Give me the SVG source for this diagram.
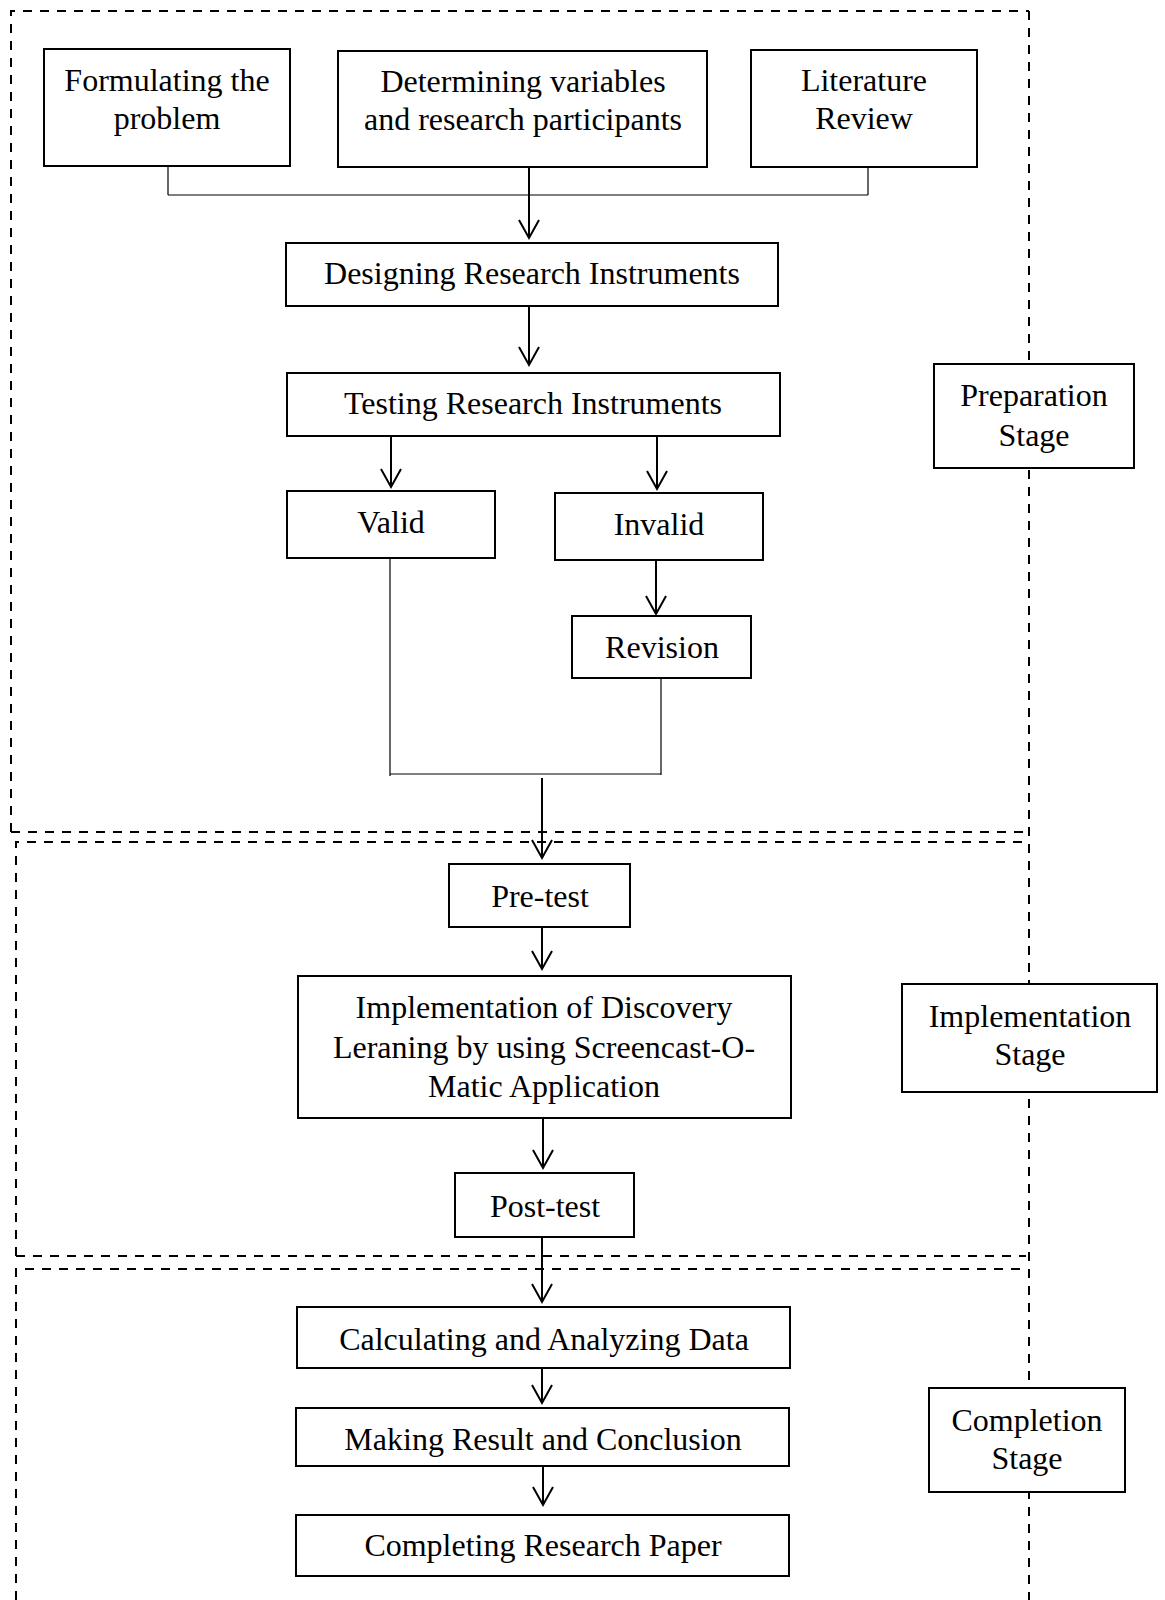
<svg xmlns="http://www.w3.org/2000/svg" width="1165" height="1600" viewBox="0 0 1165 1600">
<style>
  .box { fill: #fff; stroke: #000; stroke-width: 2; }
  .lbl { font-family: "Liberation Serif", "Times New Roman", serif; font-size: 32px; fill: #000; text-anchor: middle; }
  .dash { fill: none; stroke: #000; stroke-width: 2; stroke-dasharray: 9 8; }
  .arrow { fill: none; stroke: #000; stroke-width: 2; marker-end: url(#vhead); }
  .plain { fill: none; stroke: #000; stroke-width: 1.2; }
</style>
<defs>
  <marker id="vhead" markerUnits="userSpaceOnUse" markerWidth="24" markerHeight="26" viewBox="-22 -13 24 26" refX="0" refY="0" orient="auto" overflow="visible">
    <path d="M-18,-10 L0,0 L-18,10" fill="none" stroke="#000" stroke-width="2"/>
  </marker>
</defs>
<rect width="1165" height="1600" fill="#fff"/>

<g id="frames">
  <path class="dash" d="M11,832 V11 H1029"/>
  <path class="dash" d="M1029,11 V1600"/>
  <path class="dash" d="M11,832 H1026"/>
  <path class="dash" d="M16,1256 V842 H1026"/>
  <path class="dash" d="M16,1256 H1026"/>
  <path class="dash" d="M16,1600 V1269 H1026"/>
</g>

<g id="connectors">
  <path class="plain" d="M168,166 V195"/>
  <path class="plain" d="M868,167 V195"/>
  <path class="plain" d="M168,195 H868"/>
  <path class="plain" d="M390,558 V776"/>
  <path class="plain" d="M661,678 V775"/>
  <path class="plain" d="M390,774 H661"/>
  <path class="arrow" d="M529,167 V238"/>
  <path class="arrow" d="M529,306 V365"/>
  <path class="arrow" d="M391,436 V487"/>
  <path class="arrow" d="M657,437 V489"/>
  <path class="arrow" d="M656,560 V614"/>
  <path class="arrow" d="M542,778 V858"/>
  <path class="arrow" d="M542,927 V969"/>
  <path class="arrow" d="M543,1118 V1168"/>
  <path class="arrow" d="M542,1237 V1302"/>
  <path class="arrow" d="M542,1368 V1403"/>
  <path class="arrow" d="M543,1466 V1505"/>
</g>

<g id="formulating">
  <rect class="box" x="44" y="49" width="246" height="117"/>
  <text class="lbl" x="167" y="91">Formulating the</text>
  <text class="lbl" x="167" y="129">problem</text>
</g>
<g id="determining">
  <rect class="box" x="338" y="51" width="369" height="116"/>
  <text class="lbl" x="523" y="92">Determining variables</text>
  <text class="lbl" x="523" y="130">and research participants</text>
</g>
<g id="literature">
  <rect class="box" x="751" y="50" width="226" height="117"/>
  <text class="lbl" x="864" y="91">Literature</text>
  <text class="lbl" x="864" y="129">Review</text>
</g>
<g id="designing">
  <rect class="box" x="286" y="243" width="492" height="63"/>
  <text class="lbl" x="532" y="284">Designing Research Instruments</text>
</g>
<g id="testing">
  <rect class="box" x="287" y="373" width="493" height="63"/>
  <text class="lbl" x="533" y="414">Testing Research Instruments</text>
</g>
<g id="valid">
  <rect class="box" x="287" y="491" width="208" height="67"/>
  <text class="lbl" x="391" y="533">Valid</text>
</g>
<g id="invalid">
  <rect class="box" x="555" y="493" width="208" height="67"/>
  <text class="lbl" x="659" y="535">Invalid</text>
</g>
<g id="revision">
  <rect class="box" x="572" y="616" width="179" height="62"/>
  <text class="lbl" x="662" y="658">Revision</text>
</g>
<g id="preparation-stage">
  <rect class="box" x="934" y="364" width="200" height="104"/>
  <text class="lbl" x="1034" y="406">Preparation</text>
  <text class="lbl" x="1034" y="446">Stage</text>
</g>
<g id="pretest">
  <rect class="box" x="449" y="864" width="181" height="63"/>
  <text class="lbl" x="540" y="907">Pre-test</text>
</g>
<g id="implementation">
  <rect class="box" x="298" y="976" width="493" height="142"/>
  <text class="lbl" x="544" y="1018">Implementation of Discovery</text>
  <text class="lbl" x="544" y="1058">Leraning by using Screencast-O-</text>
  <text class="lbl" x="544" y="1097">Matic Application</text>
</g>
<g id="posttest">
  <rect class="box" x="455" y="1173" width="179" height="64"/>
  <text class="lbl" x="545" y="1217">Post-test</text>
</g>
<g id="implementation-stage">
  <rect class="box" x="902" y="984" width="255" height="108"/>
  <text class="lbl" x="1030" y="1027">Implementation</text>
  <text class="lbl" x="1030" y="1065">Stage</text>
</g>
<g id="calculating">
  <rect class="box" x="297" y="1307" width="493" height="61"/>
  <text class="lbl" x="544" y="1350">Calculating and Analyzing Data</text>
</g>
<g id="making">
  <rect class="box" x="296" y="1408" width="493" height="58"/>
  <text class="lbl" x="543" y="1450">Making Result and Conclusion</text>
</g>
<g id="completing">
  <rect class="box" x="296" y="1515" width="493" height="61"/>
  <text class="lbl" x="543" y="1556">Completing Research Paper</text>
</g>
<g id="completion-stage">
  <rect class="box" x="929" y="1388" width="196" height="104"/>
  <text class="lbl" x="1027" y="1431">Completion</text>
  <text class="lbl" x="1027" y="1469">Stage</text>
</g>
</svg>
